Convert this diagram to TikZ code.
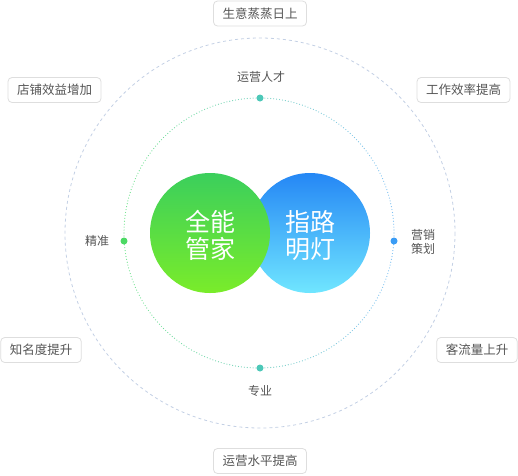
\documentclass[tikz,border=0pt]{standalone}
\usepackage{fontspec}
\setmainfont{Noto Sans CJK SC}
\usetikzlibrary{calc}
\definecolor{boxline}{HTML}{DEDEDE}
\definecolor{txtgray}{HTML}{555555}
\definecolor{outerring}{HTML}{C3D0E4}
\definecolor{ringgreen}{HTML}{6FE28C}
\definecolor{ringblue}{HTML}{7EC0F4}
\definecolor{dotgreen}{HTML}{4CD964}
\definecolor{dotblue}{HTML}{3A9CF5}
\definecolor{dotteal}{HTML}{4DC8B8}
\definecolor{gtop}{HTML}{3BCF5C}
\definecolor{gbot}{HTML}{7AEC2A}
\definecolor{btop}{HTML}{2587F5}
\definecolor{bbot}{HTML}{70E6FF}
\tikzset{
  goalbox/.style={draw=boxline, rounded corners=4pt, line width=0.8pt, fill=white,
    text=txtgray, font=\fontsize{12.5}{14}\selectfont, minimum height=25pt,
    inner xsep=9pt, inner ysep=0pt},
  ringlabel/.style={text=txtgray, font=\fontsize{12}{14}\selectfont, align=center,
    inner sep=0pt},
  ringdot/.style={circle, inner sep=0pt, minimum size=7pt},
  bigword/.style={text=white, font=\fontsize{25}{27.5}\selectfont, align=center}
}

\begin{document}
\begin{tikzpicture}[x=1pt, y=-1pt]
  \useasboundingbox (0,0) rectangle (518,475);

  % ---- outer dashed ring ----
  \draw[outerring, line width=0.8pt, dash pattern=on 3pt off 3pt] (260,233) circle (195);

  % ---- inner dotted ring, green on the left, blue on the right ----
  \foreach \a in {0,1.25,...,358.75} {
    \pgfmathtruncatemacro{\p}{50+50*cos(\a)}
    \fill[ringblue!\p!ringgreen] ($(259,233)+(\a:135)$) circle (0.6);
  }

  % ---- two big circles ----
  \shade[top color=btop, bottom color=bbot] (310,233) circle (60);
  \shade[top color=gtop, bottom color=gbot] (210,233) circle (60);
  \node[bigword] (guanjia) at (210,235.5) {全能\\管家};
  \node[bigword] (zhilu)   at (310,235.5) {指路\\明灯};

  % ---- dots on the inner ring and their labels ----
  \node[ringdot, fill=dotteal]  (dottop)    at (260,98)  {};
  \node[ringdot, fill=dotteal]  (dotbottom) at (260,368) {};
  \node[ringdot, fill=dotgreen] (dotleft)   at (124,241) {};
  \node[ringdot, fill=dotblue]  (dotright)  at (394,241) {};
  \node[ringlabel] (rencai)  at (261,77)  {运营人才};
  \node[ringlabel] (zhuanye) at (260,391) {专业};
  \node[ringlabel] (jingzhun) at (97,241) {精准};
  \node[ringlabel, text depth=0pt] (cehua) at (423,241) {营销\\策划};

  % ---- result boxes ----
  \node[goalbox] (shengyi)  at (260,13.5)  {生意蒸蒸日上};
  \node[goalbox] (xiaoyi)   at (54.5,90)   {店铺效益增加};
  \node[goalbox] (xiaolv)   at (463.5,90)  {工作效率提高};
  \node[goalbox] (zhiming)  at (41,350)    {知名度提升};
  \node[goalbox] (keliu)    at (477,350)   {客流量上升};
  \node[goalbox] (shuiping) at (260,461)   {运营水平提高};

\end{tikzpicture}
\end{document}
